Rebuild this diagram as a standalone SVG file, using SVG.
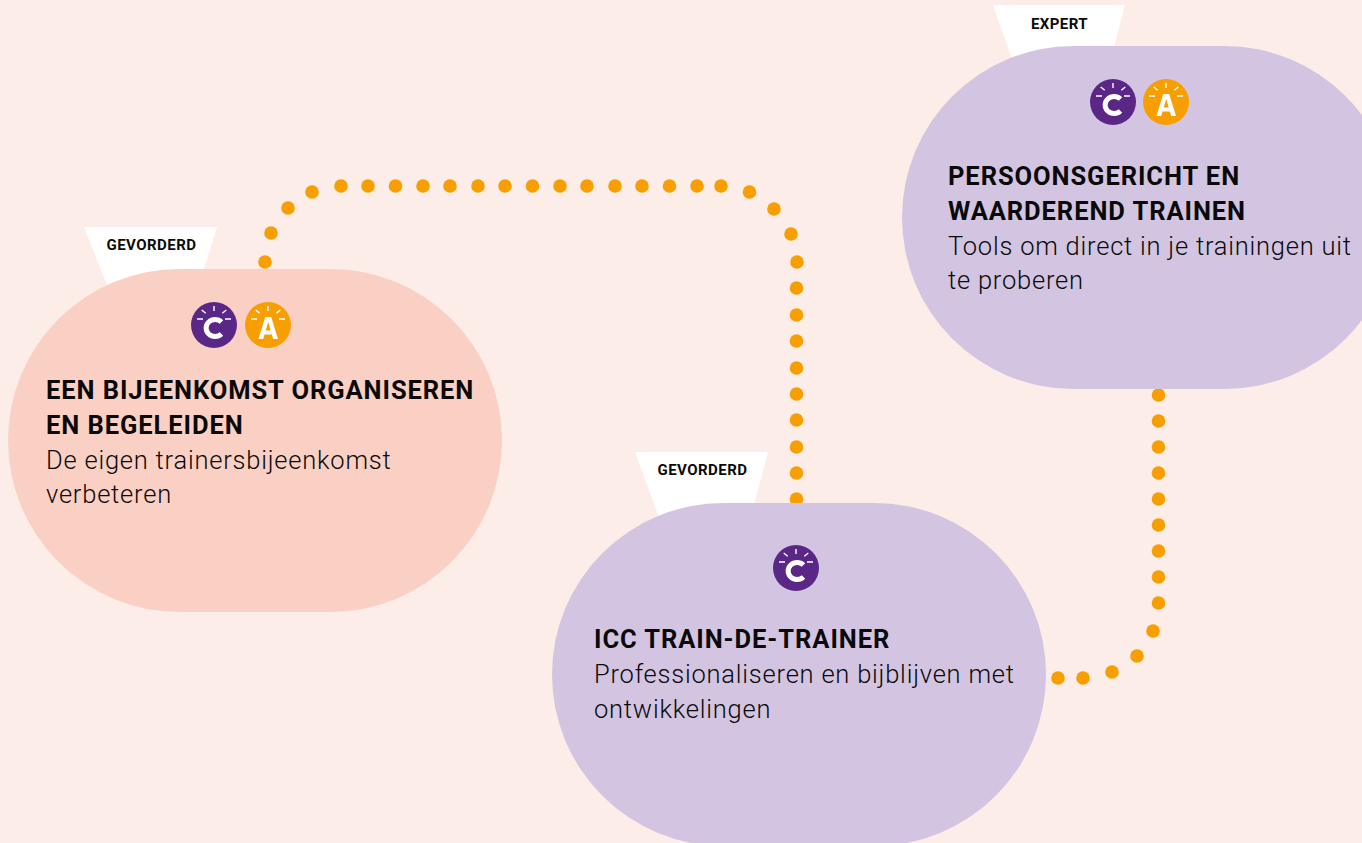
<svg xmlns="http://www.w3.org/2000/svg" width="1362" height="843" viewBox="0 0 1362 843">
<style>
text{font-family:"Roboto","Liberation Sans",sans-serif;fill:#0a0a0a}
.h{font-size:25.5px;font-weight:700;letter-spacing:.93px}
.b{font-size:25.5px;font-weight:300;letter-spacing:.78px}
.t{font-size:15px;font-weight:700;letter-spacing:.45px;text-anchor:middle}
.tag{fill:#fff}
.ray{stroke:#fff;stroke-width:1.4;fill:none}
.dot{fill:#f79f00}
.ltr{fill:none;stroke:#fff;stroke-width:5}
</style>
<defs>
<path id="rays" class="ray" d="M0-19V-14M-12.300-15L-8.300-11.700M12.300-15L8.300-11.700M-17-6H-11M11-6H17"/>
<g id="ic"><circle r="23" fill="#5b2787"/><use href="#rays"/><path class="ltr" d="M7.500-3A9 8.500 0 1 0 7.500 9"/></g>
<g id="ia"><circle r="23" fill="#f79f00"/><use href="#rays"/><path d="M-9.500 14L-2.800-8H3.200L10 14H5.200L3.900 9.600H-3.500L-4.800 14ZM-2.300 5.500H2.700L.2-3Z" fill="#fff" fill-rule="evenodd"/></g>
</defs>
<rect width="1362" height="843" fill="#fdede8"/>
<g id="connectors" class="dot">
<circle cx="265" cy="262" r="6.800"/><circle cx="271" cy="233" r="6.800"/><circle cx="288" cy="208" r="6.800"/><circle cx="312" cy="192" r="6.800"/><circle cx="341" cy="186" r="6.800"/><circle cx="368" cy="186" r="6.800"/><circle cx="395.500" cy="186" r="6.800"/><circle cx="423" cy="186" r="6.800"/><circle cx="450" cy="186" r="6.800"/><circle cx="478" cy="186" r="6.800"/><circle cx="505" cy="186" r="6.800"/><circle cx="532.500" cy="186" r="6.800"/><circle cx="560" cy="186" r="6.800"/><circle cx="587" cy="186" r="6.800"/><circle cx="615" cy="186" r="6.800"/><circle cx="642" cy="186" r="6.800"/><circle cx="669.500" cy="186" r="6.800"/><circle cx="697" cy="186" r="6.800"/><circle cx="721" cy="186" r="6.800"/><circle cx="749.500" cy="192" r="6.800"/><circle cx="774" cy="209" r="6.800"/><circle cx="791" cy="234" r="6.800"/><circle cx="797" cy="262" r="6.800"/><circle cx="796.500" cy="288" r="6.800"/><circle cx="796.500" cy="315" r="6.800"/><circle cx="796.500" cy="341" r="6.800"/><circle cx="796.500" cy="368" r="6.800"/><circle cx="796.500" cy="394" r="6.800"/><circle cx="796.500" cy="420" r="6.800"/><circle cx="796.500" cy="447" r="6.800"/><circle cx="796.500" cy="473" r="6.800"/><circle cx="796.500" cy="499" r="6.800"/>
<circle cx="1158.500" cy="395" r="6.800"/><circle cx="1158.500" cy="421" r="6.800"/><circle cx="1158.500" cy="447" r="6.800"/><circle cx="1158.500" cy="473" r="6.800"/><circle cx="1158.500" cy="499" r="6.800"/><circle cx="1158.500" cy="525" r="6.800"/><circle cx="1158.500" cy="551" r="6.800"/><circle cx="1158.500" cy="577" r="6.800"/><circle cx="1158.500" cy="603" r="6.800"/><circle cx="1153" cy="631" r="6.800"/><circle cx="1137" cy="656" r="6.800"/><circle cx="1112" cy="672" r="6.800"/><circle cx="1083" cy="678" r="6.800"/><circle cx="1058" cy="678" r="6.800"/>
</g>
<g id="node-bijeenkomst">
<path class="tag" d="M84 227H217L199 285H107Z"/>
<text class="t" x="151.500" y="250">GEVORDERD</text>
<rect x="8" y="269" width="494" height="343" rx="171.500" fill="#fbd0c4"/>
<use href="#ic" x="214" y="325"/><use href="#ia" x="268" y="325"/>
<text class="h" x="46" y="399">EEN BIJEENKOMST ORGANISEREN</text>
<text class="h" x="46" y="434">EN BEGELEIDEN</text>
<text class="b" x="46" y="469">De eigen trainersbijeenkomst</text>
<text class="b" x="46" y="503">verbeteren</text>
</g>
<g id="node-icc">
<path class="tag" d="M635 452H768L750 520H660Z"/>
<text class="t" x="702.500" y="475">GEVORDERD</text>
<rect x="552" y="503" width="494" height="343" rx="171.500" fill="#d3c5e1"/>
<use href="#ic" x="796" y="568"/>
<text class="h" x="594" y="648">ICC TRAIN-DE-TRAINER</text>
<text class="b" x="594" y="683">Professionaliseren en bijblijven met</text>
<text class="b" x="594" y="718">ontwikkelingen</text>
</g>
<g id="node-persoonsgericht">
<path class="tag" d="M993 5H1125L1110 62H1013Z"/>
<text class="t" x="1059.500" y="29">EXPERT</text>
<rect x="902" y="46" width="494" height="343" rx="171.500" fill="#d3c5e1"/>
<use href="#ic" x="1113" y="102"/><use href="#ia" x="1166" y="102"/>
<text class="h" x="948" y="185">PERSOONSGERICHT EN</text>
<text class="h" x="948" y="220">WAARDEREND TRAINEN</text>
<text class="b" x="948" y="255">Tools om direct in je trainingen uit</text>
<text class="b" x="948" y="289">te proberen</text>
</g>
</svg>
